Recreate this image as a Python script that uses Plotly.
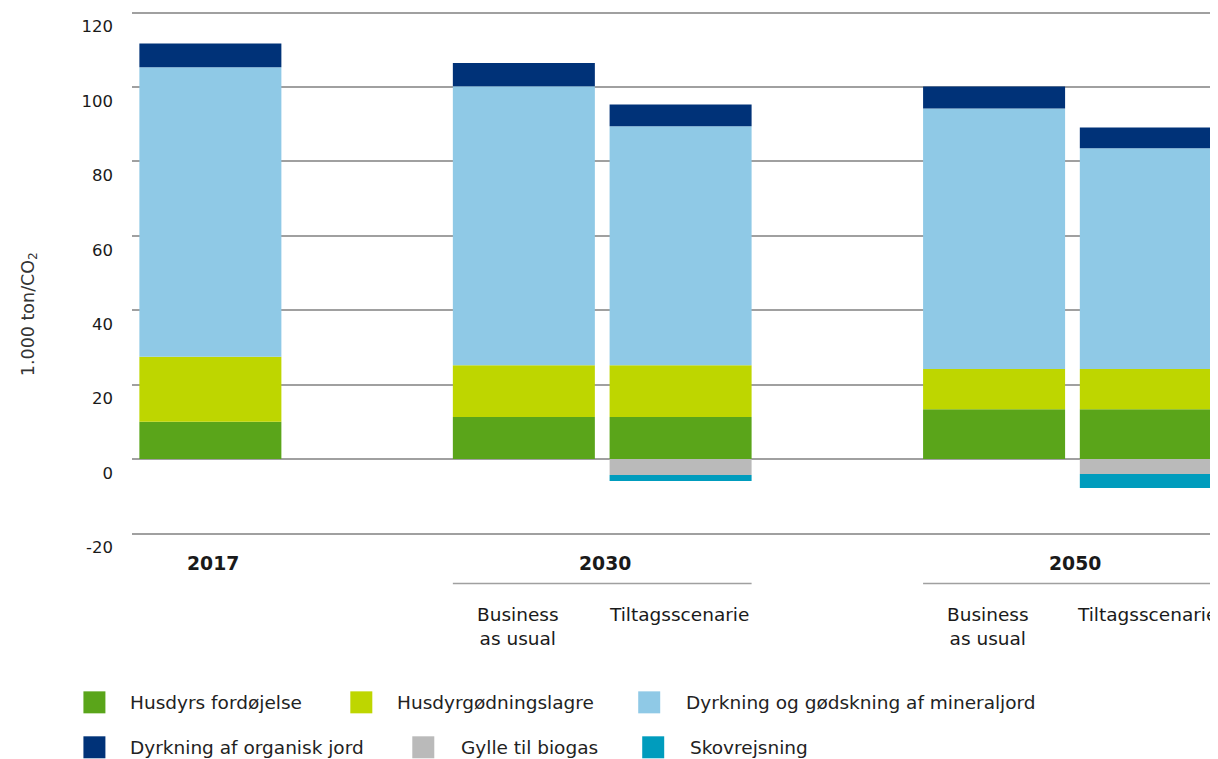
import plotly.graph_objects as go

# ---- data ----
slots = [0, 2, 3, 5, 6]  # category positions (gaps at 1 and 4)
series_names = ["Husdyrs fordøjelse", "Husdyrgødningslagre",
                "Dyrkning og gødskning af mineraljord", "Dyrkning af organisk jord",
                "Gylle til biogas", "Skovrejsning"]
husdyrs = [10.0, 11.3, 11.3, 13.4, 13.4]
gylle_lagre = [17.5, 13.9, 13.9, 10.8, 10.8]
mineraljord = [77.8, 75.0, 64.2, 70.0, 59.3]
organisk = [6.4, 6.2, 5.9, 5.9, 5.6]
biogas = [0, 0, -4.3, 0, -4.0]
skov = [0, 0, -1.6, 0, -3.8]
values = [husdyrs, gylle_lagre, mineraljord, organisk, biogas, skov]
colors = ["#5AA51A", "#BED600", "#8FC9E6", "#003278", "#BABABA", "#009CBD"]

group_labels = ["2017", "2030", "2050"]
group_x = [0, 2.5, 5.5]
sub_labels = ["Business<br>as usual", "Tiltagsscenarie", "Business<br>as usual", "Tiltagsscenarie"]
sub_x = [2, 3, 5, 6]
sub_shift = [-6, -2, -6, -4]
y_ticks = [-20, 0, 20, 40, 60, 80, 100, 120]
y_ticktext = ["-20", "0", "20", "40", "60", "80", "100", "120"]

FONT = "DejaVu Sans, Verdana, sans-serif"
OFF = 8  # page body margin
W, H = 1218 - OFF, 759 - OFF
L = 131.6 - OFF
T0, B0 = 12.5 - OFF, 534.0 - OFF   # pixel rows of 120 and -20
PXU = (B0 - T0) / 140.0
PAD = 1.5
T, B = T0 - PAD, B0 + PAD
PW = W - L
PH = B - T
BW = 0.906
SLOT = 156.8

def px_x(px):
    return (px - OFF - L) / PW

def px_y(py):
    return (B - (py - OFF)) / PH

fig = go.Figure()
for name, vals, col in zip(series_names, values, colors):
    fig.add_trace(go.Bar(x=slots, y=vals, name=name, marker=dict(color=col, line=dict(width=0)),
                         width=BW, showlegend=False))

fig.update_layout(
    barmode="relative",
    width=W, height=H,
    margin=dict(l=L, r=0, t=T, b=H - B, pad=0, autoexpand=False),
    plot_bgcolor="white", paper_bgcolor="white",
    font=dict(family=FONT, size=18.5, color="#1a1a1a"),
    xaxis=dict(range=[-0.5, -0.5 + PW / SLOT], showticklabels=False, showgrid=False,
               zeroline=False, ticks="", showline=False, automargin=False),
    yaxis=dict(range=[-20 - PAD / PXU, 120 + PAD / PXU], tickvals=y_ticks, ticktext=y_ticktext,
               showgrid=True, gridcolor="#a0a0a0", automargin=False,
               gridwidth=1.5, zeroline=True, zerolinecolor="#a0a0a0", zerolinewidth=1.5,
               ticks="", ticklabelstandoff=18, ticklabelshift=14, showline=False,
               ticklabeloverflow="allow",
               tickfont=dict(size=16.5, color="#1a1a1a")),
)

ann = []
# y-axis title
ann.append(dict(text="1.000 ton/CO<sub>2</sub>", x=px_x(29), y=px_y(314), xref="paper", yref="paper",
                showarrow=False, textangle=-90, font=dict(size=17.5, color="#333333"),
                xanchor="center", yanchor="middle"))
for lab, gx in zip(group_labels, group_x):
    ann.append(dict(text=f"<b>{lab}</b>", x=gx, y=px_y(564), xref="x", yref="paper", xshift=3,
                    showarrow=False, font=dict(size=18.8, color="#1a1a1a"), yanchor="middle"))
for lab, sx, sh in zip(sub_labels, sub_x, sub_shift):
    ann.append(dict(text=lab, x=sx, y=px_y(603), xref="x", yref="paper", showarrow=False, xshift=sh,
                    font=dict(size=18.5, color="#1a1a1a"), yanchor="top", align="center"))

shapes = []
for a, b in [(2, 3), (5, 6)]:
    shapes.append(dict(type="line", xref="x", yref="paper", x0=a - BW / 2, x1=b + BW / 2,
                       y0=px_y(584), y1=px_y(584), line=dict(color="#a0a0a0", width=1.5)))

# custom legend
leg = [(83, 128, 703), (350, 395, 703), (638, 684, 703),
       (83, 128, 748), (412, 459, 748), (642, 688, 748)]
for (sx, tx, cy), name, col in zip(leg, series_names, colors):
    shapes.append(dict(type="rect", xref="paper", yref="paper", x0=px_x(sx), x1=px_x(sx + 22),
                       y0=px_y(cy - 11), y1=px_y(cy + 11), fillcolor=col, line=dict(width=0)))
    ann.append(dict(text=name, x=px_x(tx), y=px_y(cy), xref="paper", yref="paper", showarrow=False,
                    xanchor="left", yanchor="middle", font=dict(size=18.5, color="#222222")))

fig.update_layout(annotations=ann, shapes=shapes)
fig.write_html("out.html")
